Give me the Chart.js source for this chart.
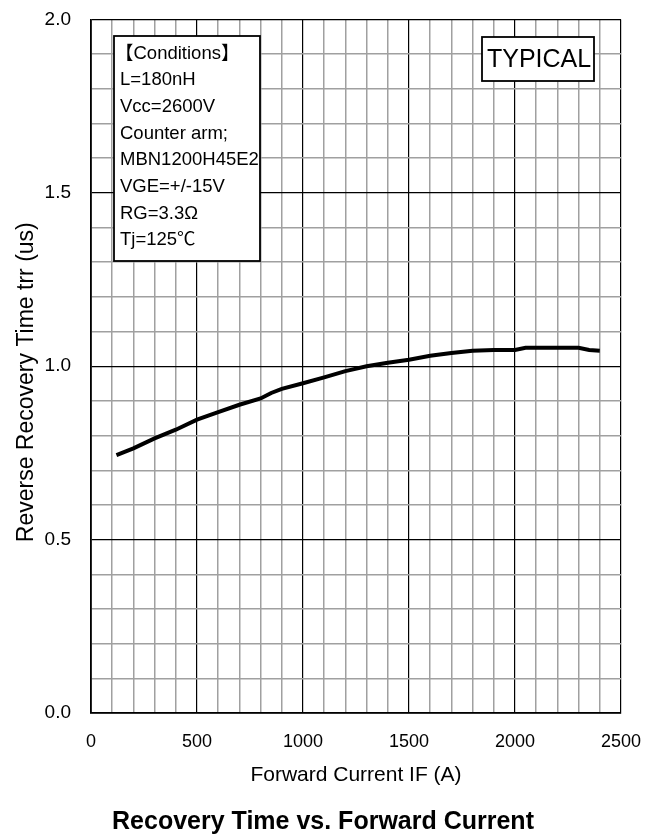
<!DOCTYPE html>
<html>
<head>
<meta charset="utf-8">
<script src="https://cdn.jsdelivr.net/npm/chart.js@4.4.1/dist/chart.umd.min.js"></script>
<style>
    html, body { margin: 0; padding: 0; background: #fff; }
    #wrap { width: 658px; height: 837px; position: relative; }
</style>
</head>
<body>
<div id="wrap"><canvas id="trrChart"></canvas></div>
<script>
// Forward current IF (A) and recovery time trr (us)
const currentIF = [120, 200, 300, 400, 500, 600, 700, 800, 850, 900, 1000, 1100, 1200, 1300,
    1400, 1500, 1600, 1700, 1800, 1900, 2000, 2050, 2100, 2200, 2300, 2350, 2400];
const recoveryTime = [0.744, 0.763, 0.792, 0.817, 0.846, 0.868, 0.889, 0.907, 0.923, 0.935, 0.951, 0.968, 0.986, 1.000,
    1.010, 1.019, 1.030, 1.038, 1.045, 1.047, 1.047, 1.053, 1.053, 1.053, 1.053, 1.047, 1.045];

// Axis ranges and labelled ticks
const xTickLabels = [0, 500, 1000, 1500, 2000, 2500];
const yTickLabels = [0.0, 0.5, 1.0, 1.5, 2.0];

// Text in the boxes
const conditionLines = ["【Conditions】", "L=180nH", "Vcc=2600V", "Counter arm;",
    "MBN1200H45E2", "VGE=+/-15V", "RG=3.3Ω", "Tj=125℃"];
const typicalLabel = "TYPICAL";

const fontFamily = "'Liberation Sans', Arial, 'Noto Sans CJK JP', sans-serif";

const points = currentIF.map((x, i) => ({ x: x, y: recoveryTime[i] }));

// grid colour: labelled ticks get a black line, the others a grey one
function isMajorX(v) { return xTickLabels.includes(v); }
function isMajorY(v) { return yTickLabels.some(t => Math.abs(t - v) < 1e-6); }

// Draws the conditions box and the TYPICAL badge
const notesPlugin = {
    id: "notes",
    afterDraw(chart) {
        const ctx = chart.ctx;
        ctx.save();
        ctx.strokeStyle = "#000";
        ctx.lineWidth = 1.8;
        ctx.fillStyle = "#fff";

        // conditions box
        ctx.fillRect(114, 36, 146, 225);
        ctx.strokeRect(114, 36, 146, 225);
        ctx.fillStyle = "#000";
        ctx.font = "18.5px " + fontFamily;
        ctx.textBaseline = "middle";
        ctx.textAlign = "left";
        conditionLines.forEach((line, i) => {
            ctx.fillText(line, i === 0 ? 115 : 120, 53.5 + i * 26.7);
        });

        // TYPICAL badge
        ctx.fillStyle = "#fff";
        ctx.fillRect(482, 37, 112, 44);
        ctx.strokeRect(482, 37, 112, 44);
        ctx.fillStyle = "#000";
        ctx.font = "25px " + fontFamily;
        ctx.fillText(typicalLabel, 487, 60);
        ctx.restore();
    }
};

const ctx = document.getElementById("trrChart").getContext("2d");
new Chart(ctx, {
    type: "line",
    data: {
        datasets: [{
            label: "trr",
            data: points,
            borderColor: "#000",
            borderWidth: 4,
            pointRadius: 0,
            pointHoverRadius: 0,
            tension: 0,
            fill: false
        }]
    },
    options: {
        responsive: true,
        maintainAspectRatio: false,
        animation: false,
        layout: { autoPadding: false, padding: { left: 25, right: 37, top: 19.5, bottom: 0 } },
        plugins: {
            legend: { display: false },
            tooltip: { enabled: false },
            title: {
                display: true,
                position: "bottom",
                text: "Recovery Time vs. Forward Current",
                color: "#000",
                font: { family: fontFamily, size: 25, weight: "bold" },
                padding: { top: 5, bottom: 0 }
            }
        },
        scales: {
            x: {
                type: "linear",
                min: xTickLabels[0],
                max: xTickLabels[xTickLabels.length - 1],
                afterFit: (scale) => {
                    scale.height = 89;
                    scale.paddingLeft = 0;
                    scale.paddingRight = 0;
                },
                ticks: {
                    stepSize: 100,
                    autoSkip: false,
                    maxRotation: 0,
                    padding: 18,
                    color: "#000",
                    font: { family: fontFamily, size: 18 },
                    callback: (v) => isMajorX(v) ? String(v) : ""
                },
                grid: {
                    drawTicks: false,
                    color: (c) => isMajorX(c.tick.value) ? "#000" : "#a0a0a0",
                    lineWidth: (c) => isMajorX(c.tick.value) ? 1.2 : 1.5
                },
                border: { color: "#000", width: 1.8 },
                title: {
                    display: true,
                    text: "Forward Current IF (A)",
                    color: "#000",
                    font: { family: fontFamily, size: 21 },
                    padding: { top: 0, bottom: 14 }
                }
            },
            y: {
                type: "linear",
                min: yTickLabels[0],
                max: yTickLabels[yTickLabels.length - 1],
                afterFit: (scale) => {
                    scale.width = 66;
                    scale.paddingTop = 0;
                    scale.paddingBottom = 0;
                },
                ticks: {
                    stepSize: 0.1,
                    autoSkip: false,
                    padding: 20,
                    color: "#000",
                    font: { family: fontFamily, size: 19 },
                    callback: (v) => isMajorY(v) ? Number(v).toFixed(1) : ""
                },
                grid: {
                    drawTicks: false,
                    color: (c) => isMajorY(c.tick.value) ? "#000" : "#a0a0a0",
                    lineWidth: (c) => isMajorY(c.tick.value) ? 1.2 : 1.5
                },
                border: { color: "#000", width: 1.8 },
                title: {
                    display: true,
                    text: "Reverse Recovery Time trr (us)     ",
                    color: "#000",
                    font: { family: fontFamily, size: 23 },
                    padding: { top: -12, bottom: 0 }
                }
            }
        }
    },
    plugins: [notesPlugin]
});
</script>
</body>
</html>
